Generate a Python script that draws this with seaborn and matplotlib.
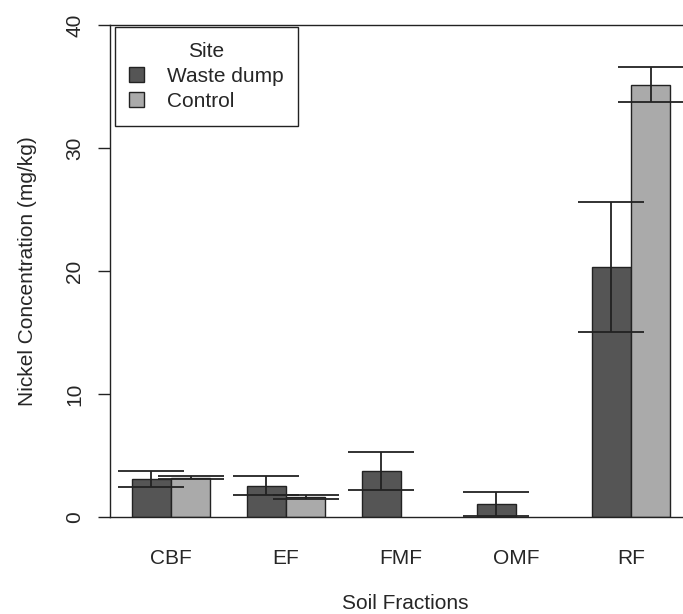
import numpy as np
import pandas as pd
import seaborn as sns
import matplotlib.pyplot as plt

# %% Data

lst_fractions = ['CBF', 'EF', 'FMF', 'OMF', 'RF']
lst_sites = ['Waste dump', 'Control']

# mean nickel concentration (mg/kg), NaN = no bar
ary_waste = [3.08, 2.54, 3.75, 1.05, 20.35]
ary_control = [3.18, 1.65, np.nan, np.nan, 35.15]

# standard errors
ary_waste_se = [0.65, 0.76, 1.54, 0.95, 5.30]
ary_control_se = [0.13, 0.16, np.nan, np.nan, 1.45]

lst_colors = ['#555555', '#aaaaaa']

# %% Build data frame

df = pd.DataFrame({
    'fraction': lst_fractions * 2,
    'site': [lst_sites[0]] * 5 + [lst_sites[1]] * 5,
    'conc': ary_waste + ary_control,
    'se': ary_waste_se + ary_control_se,
}).dropna()

# %% Plot

sns.set_theme(style='white')
plt.rcParams['font.family'] = ['Liberation Sans', 'DejaVu Sans']

fig = plt.figure(figsize=(6.83, 6.14), dpi=100)
ax = fig.add_axes([110 / 683, 1 - 517 / 614, 590 / 683, 492 / 614])

sns.barplot(data=df, x='fraction', y='conc', hue='site',
            order=lst_fractions, hue_order=lst_sites, palette=lst_colors,
            width=0.68, errorbar=None, edgecolor='#222222', linewidth=1,
            saturation=1, ax=ax)

# error bars at bar centres
for cont, site in zip(ax.containers, lst_sites):
    df_site = df[df['site'] == site]
    for bar, se in zip(cont, df_site['se']):
        x_c = bar.get_x() + bar.get_width() / 2
        ax.errorbar(x_c, bar.get_height(), yerr=se, color='#222222',
                    elinewidth=1.3, capsize=23.5, capthick=1.3, fmt='none',
                    zorder=5)

ax.set_xlim(-0.53, 4.6)
ax.set_ylim(0, 40)
ax.set_yticks([0, 10, 20, 30, 40])
ax.set_yticklabels(['0', '10', '20', '30', '40'], rotation=90, va='center')
ax.tick_params(axis='y', length=8.6, width=1, color='#222222', pad=10,
               labelsize=15, left=True)
ax.tick_params(axis='x', length=0, pad=23, labelsize=15)

ax.set_xlabel('Soil Fractions', fontsize=15, labelpad=19)
ax.set_ylabel('Nickel Concentration (mg/kg)', fontsize=15, labelpad=20)

for side in ['left', 'bottom', 'top', 'right']:
    ax.spines[side].set_color('#222222')
    ax.spines[side].set_linewidth(1)

leg = ax.legend(title='Site', loc='upper left', bbox_to_anchor=(0.008, 0.996),
                fancybox=False, edgecolor='#222222', framealpha=1,
                fontsize=15, title_fontsize=15, handlelength=0.7,
                handleheight=0.7, handletextpad=1.1, borderpad=0.7,
                labelspacing=0.3, borderaxespad=0)
leg.get_frame().set_linewidth(1)

fig.savefig('out.png', dpi=100)
